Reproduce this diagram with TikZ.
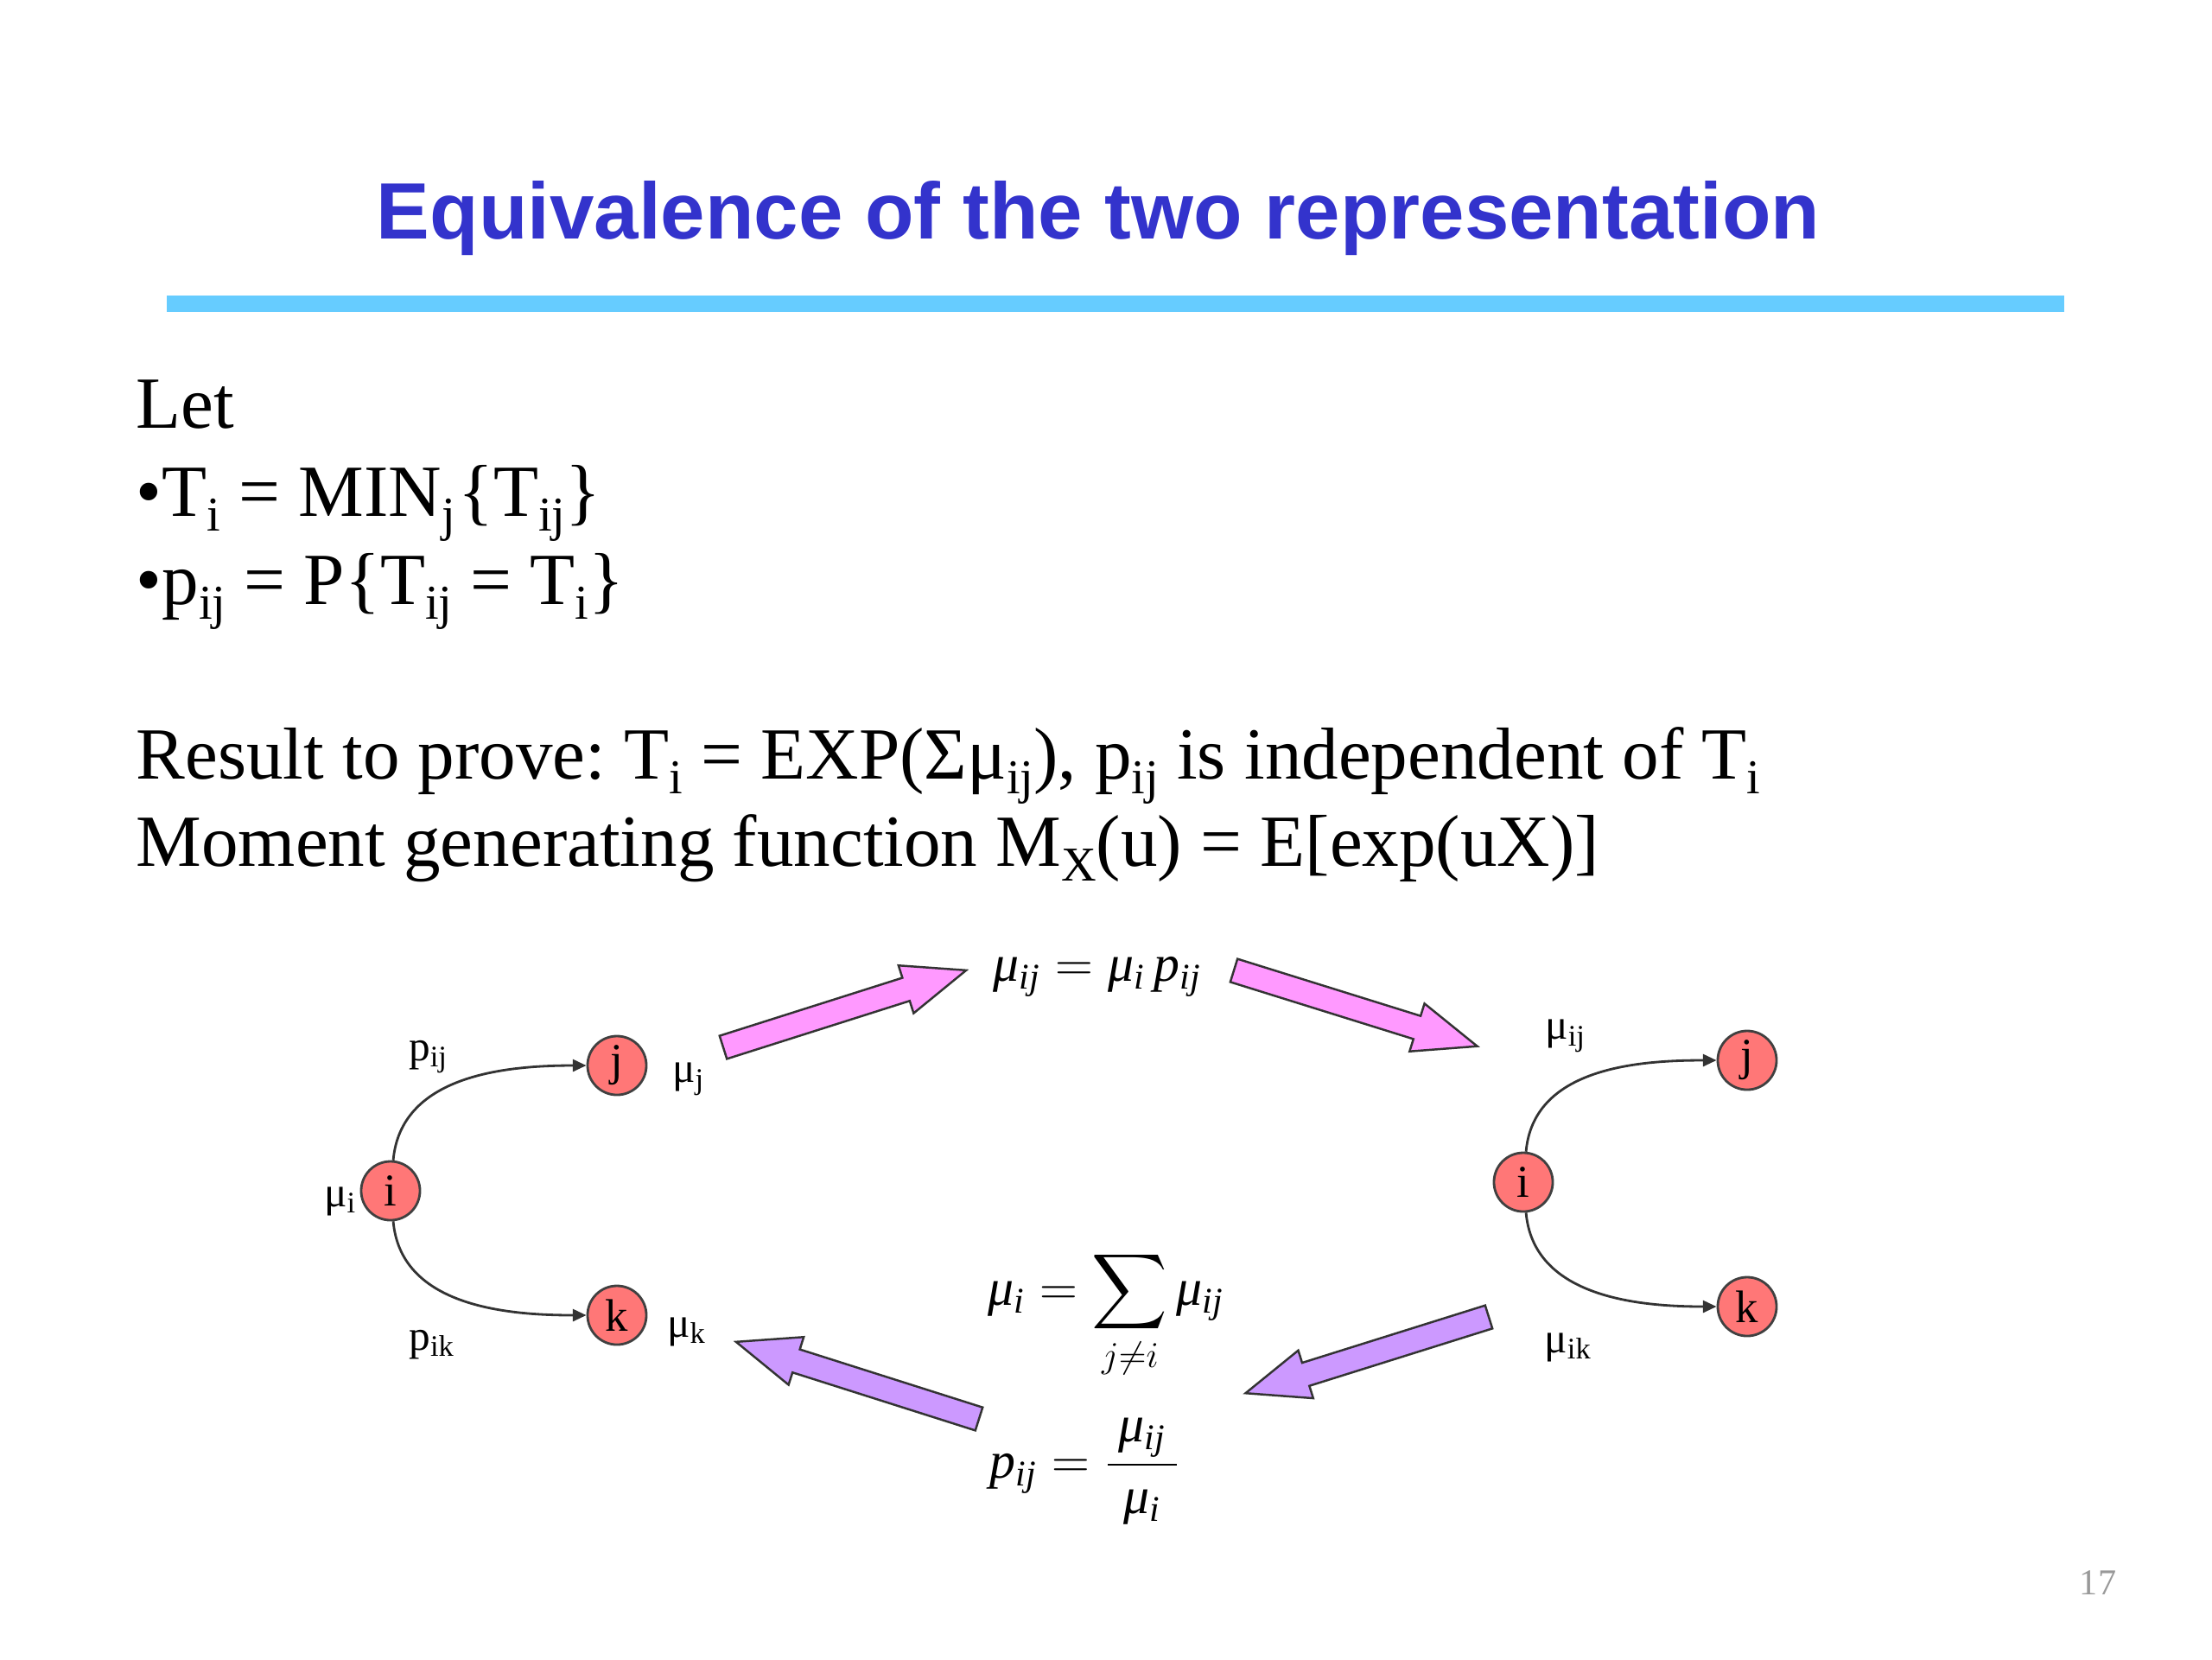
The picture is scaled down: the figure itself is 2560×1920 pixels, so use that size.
\documentclass[tikz,border=0pt]{standalone}
\usepackage{exscale}
\usepackage{fontspec}
\setmainfont{Liberation Serif}
\newfontfamily\headfont{Liberation Sans}
\usetikzlibrary{arrows.meta, positioning}

\definecolor{titleblue}{RGB}{51,51,204}
\definecolor{rulecyan}{RGB}{102,204,255}
\definecolor{nodered}{RGB}{255,119,119}
\definecolor{arrowpink}{RGB}{255,153,255}
\definecolor{arrowlilac}{RGB}{204,153,255}

\newcommand{\muv}[1]{\mbox{\itshape μ\textsubscript{#1}}}
\newcommand{\pv}[1]{\mbox{\itshape p\textsubscript{#1}}}
\newcommand{\lo}[1]{\raisebox{-0.2em}{\fontsize{16}{16}\selectfont #1}}

\begin{document}
\frenchspacing
\begin{tikzpicture}[
  x=0.01cm, y=-0.01cm, >=Stealth,
  qnode/.style={circle, draw=black!75, line width=0.8pt, fill=nodered,
    minimum size=0.68cm, inner sep=0pt, font=\fontsize{15}{18}\selectfont},
  lbl/.style={inner sep=0pt, font=\fontsize{14}{17}\selectfont},
  flow/.style={-{Triangle[length=4.5pt,width=4pt]}, line width=0.8pt, black!80},
  bodytext/.style={anchor=base west, inner sep=0pt, font=\fontsize{24.2}{29}\selectfont},
  formula/.style={anchor=base, inner sep=0pt, font=\fontsize{17}{20}\selectfont},
  fatarrow/.pic={
    \draw[pic actions, line width=0.7pt, draw=black!80]
      (0,-14) -- (222,-14) -- (222,-29) -- (295,0) -- (222,29) -- (222,14) -- (0,14) -- cycle;
  },
]
\path[use as bounding box] (0,0) rectangle (2560,1920);
% --- Title ---
\node[anchor=base, inner sep=0pt, text=titleblue,
  font=\headfont\bfseries\fontsize{26.3}{30}\selectfont] (title) at (1271,276)
  {Equivalence of the two representation};
\coordinate (ruleL) at (193,351);
\coordinate (ruleR) at (2389,351);
\draw[rulecyan, line width=0.19cm] (ruleL) -- (ruleR);
% --- Definitions ---
\node[bodytext] (let) at (157,495) {Let};
\node[bodytext] (defT) at (157,597)
  {•T\lo{i} = MIN\lo{j}\kern1pt\{T\lo{ij}\}};
\node[bodytext] (defp) at (157,699)
  {•p\lo{ij} = P\{T\lo{ij} = T\lo{i}\}};
\node[bodytext] (goal) at (157,901)
  {Result to prove: T\lo{i} = EXP(Σμ\lo{ij}), p\lo{ij} is independent of T\lo{i}};
\node[bodytext] (mgf) at (157,1002)
  {Moment generating function M\lo{X}(u) = E[exp(uX)]};
% --- Left graph ---
\node[qnode] (li) at (452,1378) {i};
\node[qnode] (lj) at (714,1233) {j};
\node[qnode] (lk) at (714,1522) {k};
\draw[flow] (li) to[out=85, in=180] (lj);
\draw[flow] (li) to[out=-85, in=180] (lk);
\node[lbl] (lpij) at (496,1223) {p\textsubscript{ij}};
\node[lbl] (lpik) at (500,1556) {p\textsubscript{ik}};
\node[lbl] (lmui) at (394,1390) {μ\textsubscript{i}};
\node[lbl] (lmuj) at (797,1249) {μ\textsubscript{j}};
\node[lbl] (lmuk) at (795,1541) {μ\textsubscript{k}};
% --- Right graph ---
\node[qnode] (ri) at (1763,1368) {i};
\node[qnode] (rj) at (2022,1227) {j};
\node[qnode] (rk) at (2022,1512) {k};
\draw[flow] (ri) to[out=85, in=180] (rj);
\draw[flow] (ri) to[out=-85, in=180] (rk);
\node[lbl] (rmuij) at (1812,1199) {μ\textsubscript{ij}};
\node[lbl] (rmuik) at (1815,1559) {μ\textsubscript{ik}};
% --- Formulas ---
\node[formula] (fprod) at (1270,1135) {$\muv{ij} = \muv{i}\,\pv{ij}$};
\node[formula] (fsum) at (1280,1510) {$\displaystyle \muv{i} = \sum_{j\neq i}\muv{ij}$};
\node[formula] (ffrac) at (1256,1710)
  {$\displaystyle \pv{ij} = \frac{\makebox[0.8cm]{\muv{ij}}}{\rule{0pt}{0.4cm}\muv{i}}$};
% --- Fat arrows ---
\pic[fill=arrowpink, rotate=17.6] at (837,1212) {fatarrow};
\pic[fill=arrowpink, rotate=-17.3] at (1428,1123) {fatarrow};
\pic[fill=arrowlilac, rotate=197.4] at (1723,1524) {fatarrow};
\pic[fill=arrowlilac, rotate=162.4] at (1133,1642) {fatarrow};
% --- Page number ---
\node[text=black!40, font=\fontsize{12}{14}\selectfont] (pgnum) at (2428,1832) {17};
\end{tikzpicture}
\end{document}
